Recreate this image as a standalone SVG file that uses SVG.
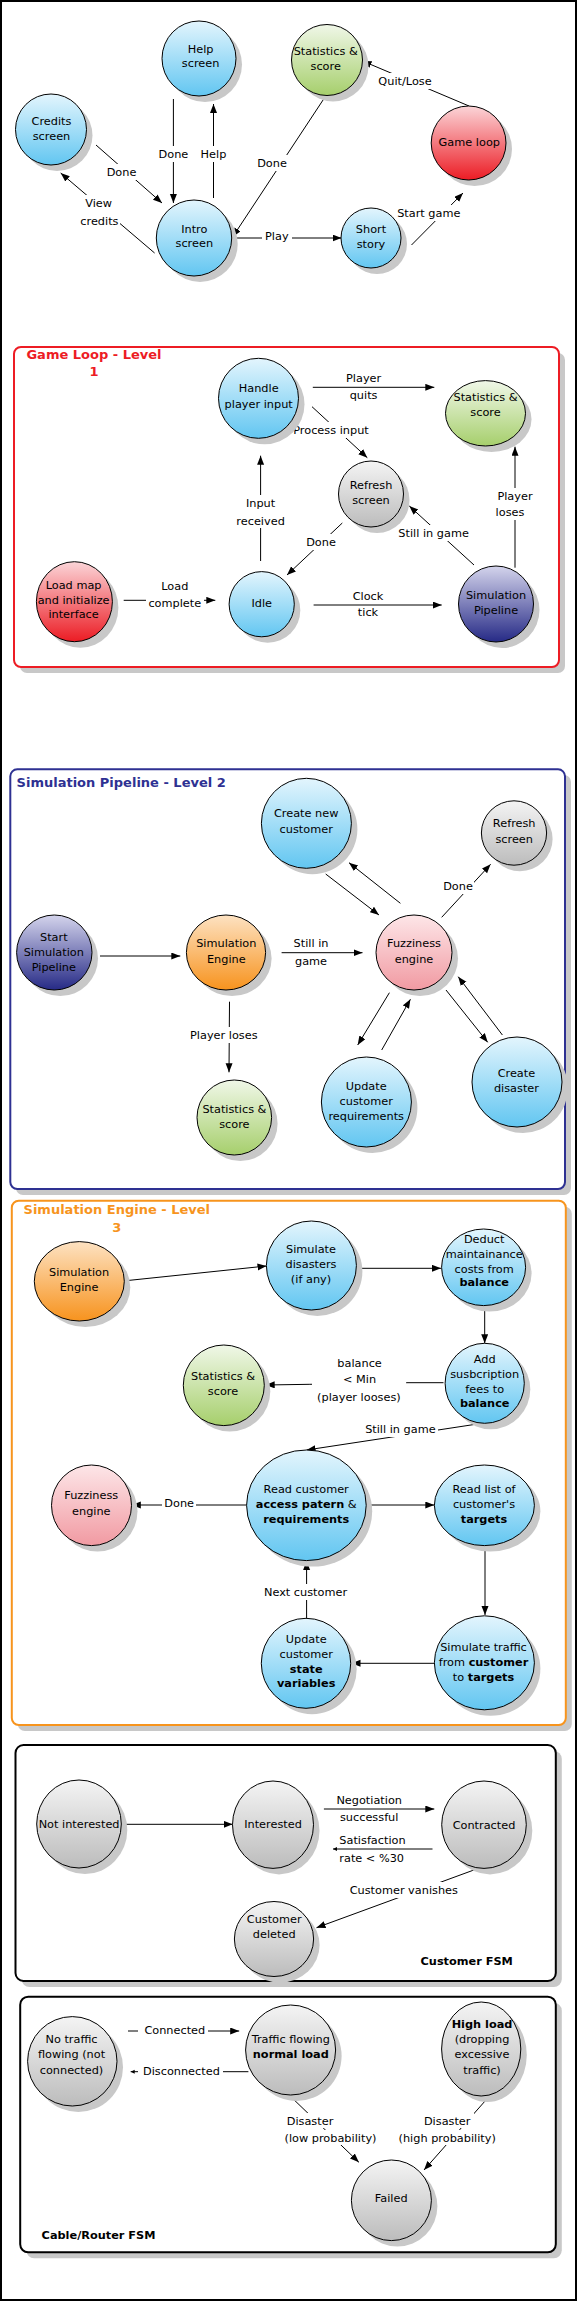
<svg xmlns="http://www.w3.org/2000/svg" width="577" height="2301" viewBox="0 0 577 2301">
<style>
text{font-family:"DejaVu Sans","Liberation Sans",sans-serif;font-size:11.3px;fill:#000;text-anchor:middle}
.b{font-weight:bold}
.ttl{font-weight:bold;font-size:13px}
.sh{fill:#c8c8c8}
.n{stroke:#000;stroke-width:1}
.c line,.c path{stroke:#000;stroke-width:1;fill:none}
.c .a{marker-end:url(#ah)}
.c .s{marker-end:url(#ahs)}
.lb{fill:#fff}
.box{fill:#fff;stroke-width:2}
.bsh{fill:#c8c8c8}
</style>
<defs>
<linearGradient id="gBlue" x1="0" y1="0" x2="0" y2="1"><stop offset="0" stop-color="#e3f5fd"/><stop offset="1" stop-color="#62c6f1"/></linearGradient>
<linearGradient id="gGreen" x1="0" y1="0" x2="0" y2="1"><stop offset="0" stop-color="#f0f7e8"/><stop offset="1" stop-color="#a6cf6c"/></linearGradient>
<linearGradient id="gRed" x1="0" y1="0" x2="0" y2="1"><stop offset="0" stop-color="#fbd5d8"/><stop offset="1" stop-color="#ec1c24"/></linearGradient>
<linearGradient id="gGray" x1="0" y1="0" x2="0" y2="1"><stop offset="0" stop-color="#f4f4f4"/><stop offset="1" stop-color="#bcbcbc"/></linearGradient>
<linearGradient id="gNavy" x1="0" y1="0" x2="0" y2="1"><stop offset="0" stop-color="#d4d4ec"/><stop offset="1" stop-color="#262a86"/></linearGradient>
<linearGradient id="gOrange" x1="0" y1="0" x2="0" y2="1"><stop offset="0" stop-color="#fde2c2"/><stop offset="1" stop-color="#f7931e"/></linearGradient>
<linearGradient id="gPink" x1="0" y1="0" x2="0" y2="1"><stop offset="0" stop-color="#fde6e8"/><stop offset="1" stop-color="#f19aa2"/></linearGradient>
<marker id="ah" markerWidth="10" markerHeight="8" refX="9" refY="3.5" orient="auto" markerUnits="userSpaceOnUse"><path d="M0,0 L9,3.5 L0,7 z" fill="#000"/></marker>
<marker id="ahs" markerWidth="5" markerHeight="5" refX="4" refY="2" orient="auto" markerUnits="userSpaceOnUse"><path d="M0,0 L4,2 L0,4 z" fill="#000"/></marker>
</defs>

<rect x="1" y="1" width="575" height="2299" fill="#fff" stroke="#000" stroke-width="2"/>

<g id="frames">
  <g id="frame-gameloop">
    <rect class="bsh" x="20" y="353" width="545" height="320" rx="7"/>
    <rect class="box" x="14" y="347" width="545" height="320" rx="7" stroke="#ed1c24"/>
    <text class="ttl" x="94" y="358.5" style="fill:#ed1c24">Game Loop - Level</text>
    <text class="ttl" x="94" y="376" style="fill:#ed1c24">1</text>
  </g>
  <g id="frame-pipeline">
    <rect class="bsh" x="16" y="775" width="555" height="420" rx="7"/>
    <rect class="box" x="10.3" y="769.3" width="554.7" height="419.7" rx="7" stroke="#2e3192"/>
    <text class="ttl" x="16.6" y="787" style="fill:#2e3192;text-anchor:start">Simulation Pipeline - Level 2</text>
  </g>
  <g id="frame-engine">
    <rect class="bsh" x="17.8" y="1206.7" width="554" height="524.3" rx="7"/>
    <rect class="box" x="11.8" y="1200.7" width="554" height="524.3" rx="7" stroke="#f7941d"/>
    <text class="ttl" x="116.8" y="1214" style="fill:#f7941d">Simulation Engine - Level</text>
    <text class="ttl" x="116.8" y="1232" style="fill:#f7941d">3</text>
  </g>
  <g id="frame-customer">
    <rect class="bsh" x="21.5" y="1751" width="540.3" height="236" rx="8"/>
    <rect class="box" x="15.5" y="1745" width="540.3" height="236" rx="8" stroke="#000"/>
    <text class="b" x="466.7" y="1965">Customer FSM</text>
  </g>
  <g id="frame-cable">
    <rect class="bsh" x="26.2" y="2002.7" width="535.6" height="255.6" rx="8"/>
    <rect class="box" x="20.2" y="1996.7" width="535.6" height="255.6" rx="8" stroke="#000"/>
    <text class="b" x="41.6" y="2239" style="text-anchor:start">Cable/Router FSM</text>
  </g>
</g>

<g id="connectors" class="c">
  <line class="a" x1="96" y1="145" x2="162" y2="203"/>
  <line class="a" x1="154.6" y1="253" x2="60.7" y2="173"/>
  <line class="a" x1="173.4" y1="99" x2="173.4" y2="203"/>
  <line class="a" x1="213.5" y1="198" x2="213.5" y2="104"/>
  <line class="a" x1="325.7" y1="96" x2="232.6" y2="237"/>
  <line class="a" x1="469" y1="106" x2="362.5" y2="61"/>
  <line class="a" x1="232.6" y1="238" x2="341.5" y2="238"/>
  <line class="a" x1="411.5" y1="245" x2="463" y2="193"/>
  <line class="a" x1="312.8" y1="387.3" x2="434.3" y2="387.3"/>
  <line class="a" x1="312" y1="406.7" x2="367.3" y2="457.7"/>
  <line class="a" x1="260.6" y1="561" x2="260.6" y2="455.7"/>
  <line class="a" x1="342.3" y1="523" x2="287" y2="575"/>
  <line class="a" x1="474" y1="565" x2="409.3" y2="506"/>
  <line class="a" x1="515" y1="567.7" x2="515" y2="446.7"/>
  <line class="a" x1="123.7" y1="600.3" x2="215.3" y2="600.3"/>
  <line class="a" x1="313.6" y1="605" x2="441.7" y2="605"/>
  <line class="a" x1="100" y1="956" x2="180.3" y2="956"/>
  <line class="a" x1="281.6" y1="952.7" x2="362.5" y2="952.7"/>
  <line class="a" x1="325.7" y1="874" x2="379" y2="915"/>
  <line class="a" x1="400.4" y1="903.3" x2="349" y2="862.7"/>
  <line class="a" x1="441.7" y1="917.3" x2="490.6" y2="864.3"/>
  <line class="a" x1="229.5" y1="1001.7" x2="229" y2="1072.3"/>
  <line class="a" x1="389.4" y1="992.7" x2="357.7" y2="1045"/>
  <line class="a" x1="381.7" y1="1050" x2="410.4" y2="999.3"/>
  <line class="a" x1="446" y1="990" x2="487.7" y2="1042.3"/>
  <line class="a" x1="502.4" y1="1035" x2="458.2" y2="976.7"/>
  <line class="a" x1="125.9" y1="1280.7" x2="266.5" y2="1266"/>
  <line class="a" x1="361.4" y1="1268.3" x2="441" y2="1268.3"/>
  <line class="a" x1="484.7" y1="1306.7" x2="484.7" y2="1343.3"/>
  <path class="a" d="M443.5,1382.7 L406.7,1382.7 L309.9,1384.3 L265.7,1385"/>
  <line class="a" x1="482.1" y1="1423.3" x2="306.6" y2="1450"/>
  <line class="a" x1="246.6" y1="1505" x2="131.8" y2="1505"/>
  <line class="a" x1="366.2" y1="1505" x2="434.3" y2="1505"/>
  <line class="a" x1="485" y1="1545.7" x2="485" y2="1615"/>
  <line class="a" x1="434.3" y1="1663.3" x2="351.5" y2="1663.3"/>
  <line class="a" x1="306.6" y1="1618.3" x2="306.6" y2="1561"/>
  <line class="a" x1="121.5" y1="1824.3" x2="232.6" y2="1824.3"/>
  <line class="a" x1="323.9" y1="1809" x2="434.3" y2="1809"/>
  <line class="s" x1="432.5" y1="1849" x2="333" y2="1849"/>
  <line class="a" x1="482.9" y1="1866.7" x2="316.5" y2="1927.7"/>
  <line class="a" x1="128" y1="2031" x2="239.2" y2="2031"/>
  <line class="s" x1="248.4" y1="2071.7" x2="130.7" y2="2071.7"/>
  <line class="a" x1="290.8" y1="2096.7" x2="358.9" y2="2162.3"/>
  <line class="a" x1="489.5" y1="2096" x2="424" y2="2170"/>

  <rect class="lb" x="105" y="164" width="33" height="16"/><text x="121.5" y="176">Done</text>
  <rect class="lb" x="78" y="195" width="42" height="34"/><text x="98.6" y="207">View</text><text x="99.4" y="225">credits</text>
  <rect class="lb" x="157" y="146" width="32" height="16"/><text x="173.4" y="158">Done</text>
  <rect class="lb" x="199" y="146" width="29" height="16"/><text x="213.5" y="158">Help</text>
  <rect class="lb" x="256" y="155" width="32" height="16"/><text x="272" y="167">Done</text>
  <rect class="lb" x="376" y="73" width="58" height="16"/><text x="405" y="85">Quit/Lose</text>
  <rect class="lb" x="262" y="228" width="30" height="16"/><text x="276.8" y="240">Play</text>
  <rect class="lb" x="396" y="205" width="66" height="16"/><text x="428.8" y="217">Start game</text>

  <text x="363.6" y="381.7">Player</text><text x="363.6" y="399">quits</text>
  <rect class="lb" x="291" y="422" width="80" height="16"/><text x="331" y="434">Process input</text>
  <rect class="lb" x="233" y="495" width="55" height="33"/><text x="260.6" y="507.3">Input</text><text x="260.6" y="524.7">received</text>
  <rect class="lb" x="305" y="534" width="32" height="16"/><text x="321" y="545.7">Done</text>
  <rect class="lb" x="396" y="525" width="75" height="16"/><text x="433.6" y="536.7">Still in game</text>
  <rect class="lb" x="495" y="488" width="40" height="32"/><text x="515" y="499.7">Player</text><text x="510" y="516.3">loses</text>
  <text x="174.8" y="589.7">Load</text>
  <rect class="lb" x="146" y="595" width="58" height="15"/><text x="174.8" y="606.7">complete</text>
  <text x="368" y="599.7">Clock</text><text x="368" y="616.3">tick</text>

  <text x="311" y="947.3">Still in</text><text x="311" y="965">game</text>
  <rect class="lb" x="442" y="878" width="32" height="16"/><text x="458" y="890">Done</text>
  <rect class="lb" x="189" y="1027" width="70" height="16"/><text x="223.8" y="1039">Player loses</text>

  <rect class="lb" x="312" y="1355" width="94" height="50"/><text x="359.6" y="1366.7">balance</text><text x="359.6" y="1383.3">&lt; Min</text><text x="358.9" y="1401.3">(player looses)</text>
  <rect class="lb" x="363" y="1421" width="75" height="16"/><text x="400.4" y="1433.3">Still in game</text>
  <rect class="lb" x="162" y="1495" width="34" height="16"/><text x="179.2" y="1506.7">Done</text>
  <rect class="lb" x="262" y="1584" width="88" height="16"/><text x="305.5" y="1595.7">Next customer</text>

  <text x="369.2" y="1804">Negotiation</text><text x="369.2" y="1820.7">successful</text>
  <text x="372.5" y="1844">Satisfaction</text><text x="371.7" y="1861.7">rate &lt; %30</text>
  <rect class="lb" x="348" y="1882" width="112" height="16"/><text x="403.8" y="1894">Customer vanishes</text>

  <rect class="lb" x="138" y="2023" width="70" height="15"/><text x="174.8" y="2034">Connected</text>
  <rect class="lb" x="138" y="2063" width="85" height="16"/><text x="181.4" y="2075">Disconnected</text>
  <rect class="lb" x="283" y="2113" width="54" height="15"/><text x="310" y="2124.7">Disaster</text>
  <rect class="lb" x="279" y="2130" width="103" height="15"/><text x="330.5" y="2141.7">(low probability)</text>
  <rect class="lb" x="420" y="2113" width="54" height="15"/><text x="447.2" y="2124.7">Disaster</text>
  <rect class="lb" x="392" y="2130" width="111" height="15"/><text x="447.2" y="2141.7">(high probability)</text>
</g>

<g id="n-help"><ellipse class="sh" cx="205" cy="64.5" rx="37" ry="37.5"/><ellipse class="n" cx="199" cy="58.5" rx="37" ry="37.5" fill="url(#gBlue)"/><text x="200.6" y="53">Help</text><text x="200.6" y="67.3">screen</text></g>
<g id="n-stats1"><ellipse class="sh" cx="333" cy="66" rx="35.5" ry="35.5"/><ellipse class="n" cx="327" cy="60" rx="35.5" ry="35.5" fill="url(#gGreen)"/><text x="325.7" y="54.7">Statistics &amp;</text><text x="325.7" y="69.7">score</text></g>
<g id="n-credits"><ellipse class="sh" cx="57" cy="135.5" rx="35.5" ry="35.5"/><ellipse class="n" cx="51" cy="129.5" rx="35.5" ry="35.5" fill="url(#gBlue)"/><text x="51.5" y="124.7">Credits</text><text x="51.5" y="139.7">screen</text></g>
<g id="n-gameloop"><ellipse class="sh" cx="474.6" cy="149" rx="37.4" ry="37"/><ellipse class="n" cx="468.6" cy="143" rx="37.4" ry="37" fill="url(#gRed)"/><text x="469.3" y="145.7">Game loop</text></g>
<g id="n-intro"><ellipse class="sh" cx="200" cy="244" rx="37.7" ry="38"/><ellipse class="n" cx="194" cy="238" rx="37.7" ry="38" fill="url(#gBlue)"/><text x="194.3" y="233">Intro</text><text x="194.3" y="247.3">screen</text></g>
<g id="n-story"><ellipse class="sh" cx="377" cy="244" rx="30" ry="30"/><ellipse class="n" cx="371" cy="238" rx="30" ry="30" fill="url(#gBlue)"/><text x="371" y="233">Short</text><text x="371" y="248">story</text></g>

<g id="n-handle"><ellipse class="sh" cx="264.5" cy="404.3" rx="40" ry="40"/><ellipse class="n" cx="258.5" cy="398.3" rx="40" ry="40" fill="url(#gBlue)"/><text x="258.7" y="392.3">Handle</text><text x="258.7" y="408">player input</text></g>
<g id="n-stats2"><ellipse class="sh" cx="491.5" cy="419.3" rx="40" ry="32.7"/><ellipse class="n" cx="485.5" cy="413.3" rx="40" ry="32.7" fill="url(#gGreen)"/><text x="485.5" y="400.7">Statistics &amp;</text><text x="485.5" y="416.3">score</text></g>
<g id="n-refresh2"><ellipse class="sh" cx="377" cy="500" rx="32.5" ry="33"/><ellipse class="n" cx="371" cy="494" rx="32.5" ry="33" fill="url(#gGray)"/><text x="371" y="489">Refresh</text><text x="371" y="504">screen</text></g>
<g id="n-loadmap"><ellipse class="sh" cx="80.4" cy="607.7" rx="38" ry="40"/><ellipse class="n" cx="74.4" cy="601.7" rx="38" ry="40" fill="url(#gRed)"/><text x="73.6" y="589">Load map</text><text x="73.6" y="604">and initialize</text><text x="73.6" y="618.3">interface</text></g>
<g id="n-idle"><ellipse class="sh" cx="267.7" cy="610.2" rx="32.6" ry="32.6"/><ellipse class="n" cx="261.7" cy="604.2" rx="32.6" ry="32.6" fill="url(#gBlue)"/><text x="261.7" y="606.7">Idle</text></g>
<g id="n-simpipe"><ellipse class="sh" cx="502" cy="610" rx="37.5" ry="38"/><ellipse class="n" cx="496" cy="604" rx="37.5" ry="38" fill="url(#gNavy)"/><text x="496" y="599">Simulation</text><text x="496" y="614">Pipeline</text></g>

<g id="n-newcust"><ellipse class="sh" cx="312.4" cy="829.3" rx="45" ry="45"/><ellipse class="n" cx="306.4" cy="823.3" rx="45" ry="45" fill="url(#gBlue)"/><text x="306.2" y="817.3">Create new</text><text x="306.2" y="833">customer</text></g>
<g id="n-refresh3"><ellipse class="sh" cx="520" cy="839" rx="32.6" ry="32.2"/><ellipse class="n" cx="514" cy="833" rx="32.6" ry="32.2" fill="url(#gGray)"/><text x="514.2" y="827.3">Refresh</text><text x="514.2" y="843">screen</text></g>
<g id="n-startpipe"><ellipse class="sh" cx="60.3" cy="958.5" rx="37.7" ry="37.5"/><ellipse class="n" cx="54.3" cy="952.5" rx="37.7" ry="37.5" fill="url(#gNavy)"/><text x="53.8" y="940.7">Start</text><text x="53.8" y="955.7">Simulation</text><text x="53.8" y="970.7">Pipeline</text></g>
<g id="n-simeng3"><ellipse class="sh" cx="232" cy="958.5" rx="39.6" ry="37.5"/><ellipse class="n" cx="226" cy="952.5" rx="39.6" ry="37.5" fill="url(#gOrange)"/><text x="226.3" y="947.3">Simulation</text><text x="226.3" y="963">Engine</text></g>
<g id="n-fuzzy3"><ellipse class="sh" cx="420" cy="958.5" rx="38" ry="37.5"/><ellipse class="n" cx="414" cy="952.5" rx="38" ry="37.5" fill="url(#gPink)"/><text x="414" y="947.3">Fuzziness</text><text x="414" y="963">engine</text></g>
<g id="n-stats3"><ellipse class="sh" cx="240.3" cy="1123.5" rx="37.3" ry="37.5"/><ellipse class="n" cx="234.3" cy="1117.5" rx="37.3" ry="37.5" fill="url(#gGreen)"/><text x="234.4" y="1113">Statistics &amp;</text><text x="234.4" y="1127.7">score</text></g>
<g id="n-updreq"><ellipse class="sh" cx="372.4" cy="1108" rx="45" ry="45"/><ellipse class="n" cx="366.4" cy="1102" rx="45" ry="45" fill="url(#gBlue)"/><text x="366.2" y="1089.7">Update</text><text x="366.2" y="1104.7">customer</text><text x="366.2" y="1119.7">requirements</text></g>
<g id="n-disaster"><ellipse class="sh" cx="523" cy="1088" rx="45" ry="45"/><ellipse class="n" cx="517" cy="1082" rx="45" ry="45" fill="url(#gBlue)"/><text x="516.4" y="1076.7">Create</text><text x="516.4" y="1091.7">disaster</text></g>

<g id="n-simeng4"><ellipse class="sh" cx="85.3" cy="1287.3" rx="45" ry="39.7"/><ellipse class="n" cx="79.3" cy="1281.3" rx="45" ry="39.7" fill="url(#gOrange)"/><text x="79.1" y="1275.7">Simulation</text><text x="79.1" y="1291.3">Engine</text></g>
<g id="n-simdis"><ellipse class="sh" cx="317.4" cy="1271.5" rx="45" ry="44.5"/><ellipse class="n" cx="311.4" cy="1265.5" rx="45" ry="44.5" fill="url(#gBlue)"/><text x="311" y="1253">Simulate</text><text x="311" y="1268">disasters</text><text x="311" y="1283.3">(if any)</text></g>
<g id="n-deduct"><ellipse class="sh" cx="489.6" cy="1273.3" rx="42" ry="38.3"/><ellipse class="n" cx="483.6" cy="1267.3" rx="42" ry="38.3" fill="url(#gBlue)"/><text x="484.2" y="1243">Deduct</text><text x="484.2" y="1258">maintainance</text><text x="484.2" y="1273">costs from</text><text class="b" x="484.2" y="1286.3">balance</text></g>
<g id="n-addfees"><ellipse class="sh" cx="490.7" cy="1389.3" rx="39.6" ry="40"/><ellipse class="n" cx="484.7" cy="1383.3" rx="39.6" ry="40" fill="url(#gBlue)"/><text x="484.7" y="1363">Add</text><text x="484.7" y="1378">susbcription</text><text x="484.7" y="1393">fees to</text><text class="b" x="484.7" y="1406.7">balance</text></g>
<g id="n-stats4"><ellipse class="sh" cx="229.8" cy="1391.3" rx="40.5" ry="40.3"/><ellipse class="n" cx="223.8" cy="1385.3" rx="40.5" ry="40.3" fill="url(#gGreen)"/><text x="223" y="1379.7">Statistics &amp;</text><text x="223" y="1394.7">score</text></g>
<g id="n-fuzzy4"><ellipse class="sh" cx="97.5" cy="1511.3" rx="40" ry="40.3"/><ellipse class="n" cx="91.5" cy="1505.3" rx="40" ry="40.3" fill="url(#gPink)"/><text x="91.3" y="1499">Fuzziness</text><text x="91.3" y="1514.7">engine</text></g>
<g id="n-readcust"><ellipse class="sh" cx="312.4" cy="1511.3" rx="59.8" ry="55.3"/><ellipse class="n" cx="306.4" cy="1505.3" rx="59.8" ry="55.3" fill="url(#gBlue)"/><text x="306.2" y="1493">Read customer</text><text x="306.2" y="1508"><tspan class="b">access patern</tspan> &amp;</text><text class="b" x="306.2" y="1522.7">requirements</text></g>
<g id="n-readlist"><ellipse class="sh" cx="490.4" cy="1511.3" rx="50" ry="40.3"/><ellipse class="n" cx="484.4" cy="1505.3" rx="50" ry="40.3" fill="url(#gBlue)"/><text x="484" y="1493">Read list of</text><text x="484" y="1508">customer's</text><text class="b" x="484" y="1522.7">targets</text></g>
<g id="n-updstate"><ellipse class="sh" cx="312" cy="1669.3" rx="44.7" ry="45"/><ellipse class="n" cx="306" cy="1663.3" rx="44.7" ry="45" fill="url(#gBlue)"/><text x="306.2" y="1643">Update</text><text x="306.2" y="1658">customer</text><text class="b" x="306.2" y="1673">state</text><text class="b" x="306.2" y="1686.7">variables</text></g>
<g id="n-simtraffic"><ellipse class="sh" cx="490.4" cy="1668.8" rx="50" ry="47"/><ellipse class="n" cx="484.4" cy="1662.8" rx="50" ry="47" fill="url(#gBlue)"/><text x="483.5" y="1650.7">Simulate traffic</text><text x="483.5" y="1665.7">from <tspan class="b">customer</tspan></text><text x="483.5" y="1680.7">to <tspan class="b">targets</tspan></text></g>

<g id="n-notint"><ellipse class="sh" cx="85" cy="1830" rx="42.3" ry="44"/><ellipse class="n" cx="79" cy="1824" rx="42.3" ry="44" fill="url(#gGray)"/><text x="79.1" y="1828.3">Not interested</text></g>
<g id="n-int"><ellipse class="sh" cx="279" cy="1830.7" rx="40.5" ry="43.7"/><ellipse class="n" cx="273" cy="1824.7" rx="40.5" ry="43.7" fill="url(#gGray)"/><text x="273" y="1828.3">Interested</text></g>
<g id="n-contract"><ellipse class="sh" cx="490" cy="1830.7" rx="42.3" ry="43.7"/><ellipse class="n" cx="484" cy="1824.7" rx="42.3" ry="43.7" fill="url(#gGray)"/><text x="484" y="1829">Contracted</text></g>
<g id="n-deleted"><ellipse class="sh" cx="280" cy="1945" rx="39.6" ry="37.5"/><ellipse class="n" cx="274" cy="1939" rx="39.6" ry="37.5" fill="url(#gGray)"/><text x="274.2" y="1923.3">Customer</text><text x="274.2" y="1938.3">deleted</text></g>

<g id="n-notraffic"><ellipse class="sh" cx="78.3" cy="2067.3" rx="44.7" ry="44.7"/><ellipse class="n" cx="72.3" cy="2061.3" rx="44.7" ry="44.7" fill="url(#gGray)"/><text x="71.5" y="2043.3">No traffic</text><text x="71.5" y="2058.3">flowing (not</text><text x="71.5" y="2074">connected)</text></g>
<g id="n-normal"><ellipse class="sh" cx="296.6" cy="2056" rx="45" ry="45"/><ellipse class="n" cx="290.6" cy="2050" rx="45" ry="45" fill="url(#gGray)"/><text x="290.8" y="2043">Traffic flowing</text><text class="b" x="290.8" y="2058">normal load</text></g>
<g id="n-high"><ellipse class="sh" cx="487.2" cy="2055" rx="39.6" ry="47"/><ellipse class="n" cx="481.2" cy="2049" rx="39.6" ry="47" fill="url(#gGray)"/><text class="b" x="482" y="2028">High load</text><text x="482" y="2043">(dropping</text><text x="482" y="2058">excessive</text><text x="482" y="2074">traffic)</text></g>
<g id="n-failed"><ellipse class="sh" cx="397.4" cy="2206.3" rx="40" ry="40.3"/><ellipse class="n" cx="391.4" cy="2200.3" rx="40" ry="40.3" fill="url(#gGray)"/><text x="391.2" y="2202.3">Failed</text></g>
</svg>
